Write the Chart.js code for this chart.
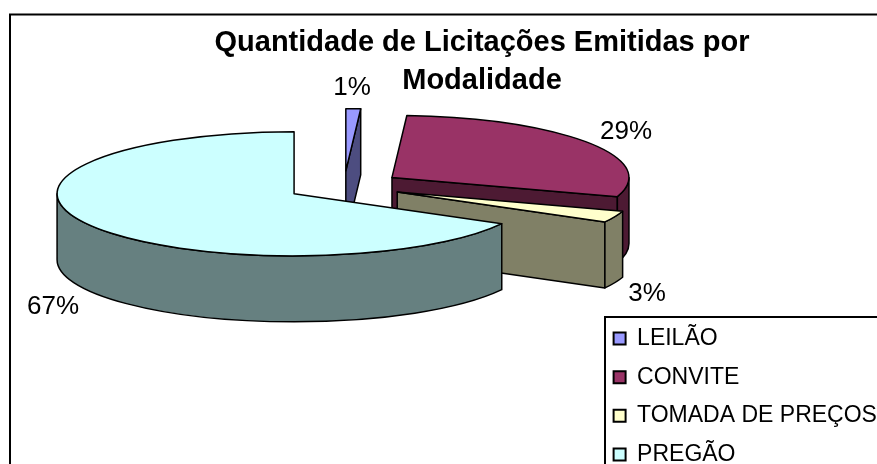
<!DOCTYPE html>
<html>
<head>
<meta charset="utf-8">
<style>
  html, body { margin: 0; padding: 0; background: #fff; overflow: hidden; width: 877px; height: 464px; }
  canvas { display: block; }
</style>
</head>
<body>
<canvas id="modalidade" width="964" height="500"></canvas>
<script src="https://cdn.jsdelivr.net/npm/chart.js@4"></script>
<script>
const categories = ['LEILÃO', 'CONVITE', 'TOMADA DE PREÇOS', 'PREGÃO'];
const percents = [1, 29, 3, 67];
const topColors = ['#9999FF', '#993366', '#FFFFCC', '#CCFFFF'];
const sideColors = ['#4D4D80', '#4D1A33', '#808066', '#668080'];
const chartTitle = ['Quantidade de Licitações Emitidas por', 'Modalidade'];
const labelPos = [[352, 88], [626, 132], [647, 294], [53, 307]];

const FONT = '"Liberation Sans", Arial, sans-serif';
const tilt = 0.262;    // achata o circulo em elipse
const depth = 66;      // altura da "fatia" em px
const explode = 58;    // deslocamento radial das fatias

function wedge(ctx, x, y, rx, ry, a0, a1) {
    ctx.beginPath();
    ctx.moveTo(x, y);
    ctx.ellipse(x, y, rx, ry, 0, a0, a1);
    ctx.closePath();
}

function paintFace(ctx, color) {
    ctx.fillStyle = color;
    ctx.fill();
    ctx.stroke();
}

function drawSlice(ctx, arc, side) {
    const { x, y, startAngle: a0, endAngle: a1, outerRadius: r } = arc;
    const mid = (a0 + a1) / 2;
    const cx = x + Math.cos(mid) * explode;
    const cy = y + Math.sin(mid) * explode * tilt;
    const ry = r * tilt;

    ctx.lineJoin = 'round';
    ctx.strokeStyle = '#000';
    ctx.lineWidth = 1.5;

    // faces de corte viradas para a frente
    const cutFace = (a) => {
        const px = cx + Math.cos(a) * r;
        const py = cy + Math.sin(a) * ry;
        ctx.beginPath();
        ctx.moveTo(cx, cy);
        ctx.lineTo(px, py);
        ctx.lineTo(px, py + depth);
        ctx.lineTo(cx, cy + depth);
        ctx.closePath();
        paintFace(ctx, side);
    };
    if (Math.cos(a1) > 0.001) cutFace(a1);
    if (Math.cos(a0) < -0.001) cutFace(a0);

    // parede externa: so o trecho da frente da elipse
    const from = Math.max(a0, 0);
    const to = Math.min(a1, Math.PI);
    if (to > from) {
        ctx.beginPath();
        ctx.ellipse(cx, cy, r, ry, 0, from, to);
        ctx.ellipse(cx, cy + depth, r, ry, 0, to, from, true);
        ctx.closePath();
        paintFace(ctx, side);
    }

    // tampo: o proprio arco do Chart.js, achatado
    ctx.save();
    ctx.translate(cx, cy);
    ctx.scale(1, tilt);
    ctx.translate(-x, -y);
    arc.draw(ctx);
    ctx.restore();

    wedge(ctx, cx, cy, r, ry, a0, a1);
    ctx.stroke();
}

const pie3d = {
    id: 'pie3d',
    beforeDraw(chart) {
        const ctx = chart.ctx;
        ctx.save();
        ctx.strokeStyle = '#000';
        ctx.lineWidth = 2;
        ctx.strokeRect(10, 14.5, 944, 475);
        ctx.restore();
    },
    afterLayout(chart) {
        // titulo centrado no quadro inteiro, legenda solta no canto
        chart.titleBlock.left = 0;
        chart.titleBlock.right = chart.width;
        const lg = chart.legend;
        lg.left = 598;
        lg.right = 1000;
        lg.top = 311.5;
        lg.bottom = chart.height + 100;
    },
    beforeDatasetsDraw(chart) {
        const ctx = chart.ctx;
        const arcs = chart.getDatasetMeta(0).data;
        ctx.save();
        arcs.forEach((arc, i) => drawSlice(ctx, arc, sideColors[i]));
        ctx.fillStyle = '#000';
        ctx.font = `26px ${FONT}`;
        ctx.textAlign = 'center';
        ctx.textBaseline = 'middle';
        percents.forEach((p, i) => ctx.fillText(`${p}%`, labelPos[i][0], labelPos[i][1]));
        ctx.restore();
        return false;
    },
    afterDraw(chart) {
        const ctx = chart.ctx;
        ctx.save();
        ctx.strokeStyle = '#000';
        ctx.lineWidth = 2;
        ctx.strokeRect(605, 317, 400, 300);
        ctx.restore();
    }
};

new Chart(document.getElementById('modalidade'), {
    type: 'pie',
    data: {
        labels: categories,
        datasets: [{
            data: percents,
            backgroundColor: topColors,
            borderWidth: 0
        }]
    },
    options: {
        responsive: false,
        animation: false,
        radius: 237,
        layout: { padding: { left: 2, right: 38, top: 0, bottom: 228 } },
        plugins: {
            tooltip: { enabled: false },
            title: {
                display: true,
                text: chartTitle,
                color: '#000',
                font: { family: FONT, size: 29, weight: 'bold', lineHeight: 1.31 },
                padding: { top: 24, bottom: 0 }
            },
            legend: {
                position: 'right',
                align: 'start',
                maxWidth: 240,
                labels: {
                    color: '#000',
                    font: { family: FONT, size: 23 },
                    boxWidth: 12,
                    boxHeight: 12,
                    padding: 15.6,
                    generateLabels(chart) {
                        return categories.map((c, i) => ({
                            text: c,
                            fillStyle: topColors[i],
                            strokeStyle: '#000',
                            lineWidth: 2,
                            index: i
                        }));
                    }
                }
            }
        }
    },
    plugins: [pie3d]
});
</script>
</body>
</html>
